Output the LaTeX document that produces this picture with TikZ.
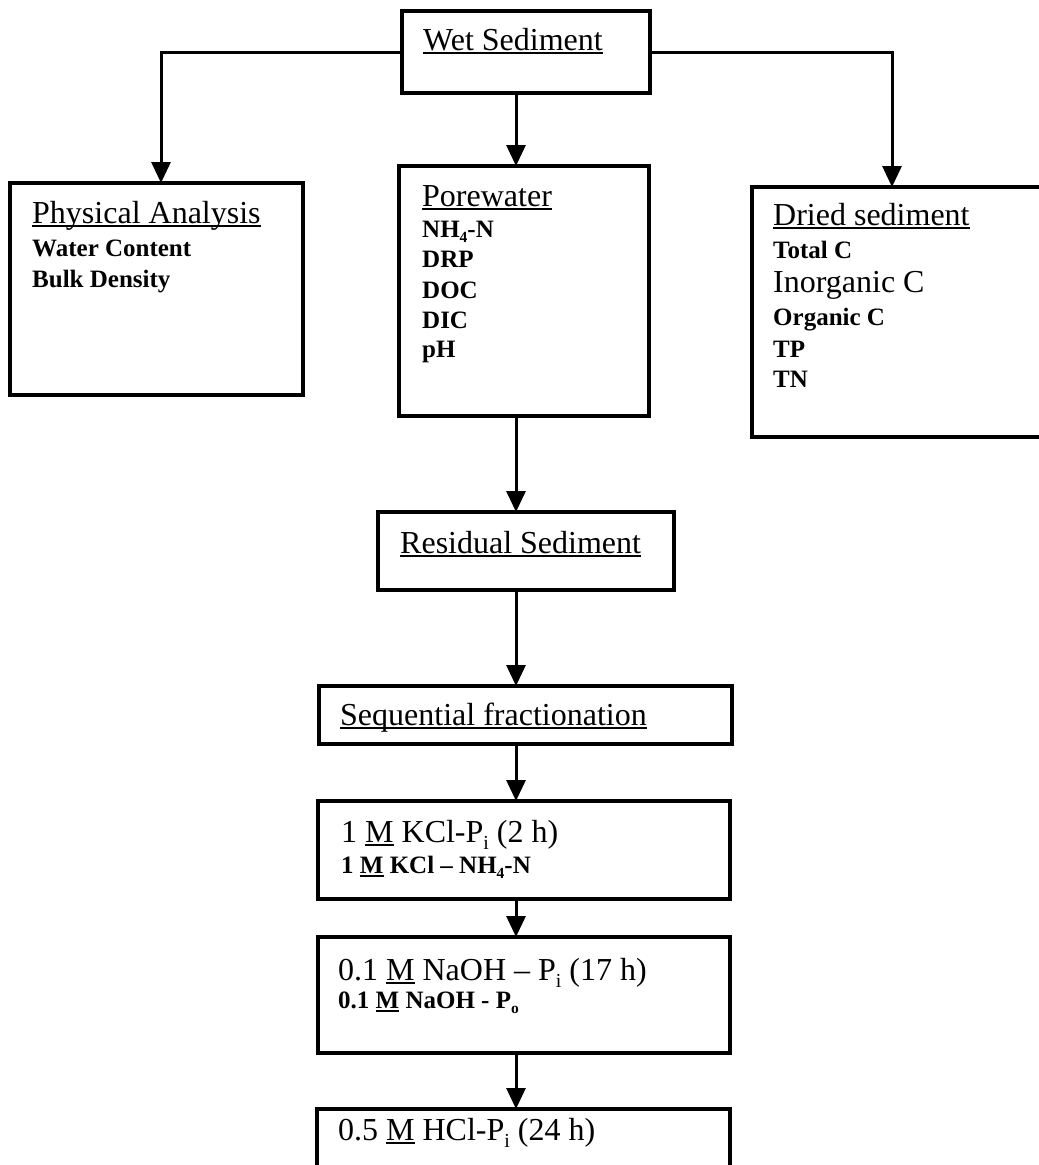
\documentclass[tikz,border=0pt]{standalone}
\usepackage{fontspec}
\setmainfont{Liberation Serif}
\usepackage{graphicx}
\usetikzlibrary{arrows.meta}
\newcommand\myul[1]{\setbox0\hbox{#1}\rlap{\rule[-0.14em]{\wd0}{0.07em}}\box0\relax}
\newcommand\subx[1]{\raisebox{-0.22em}{\scalebox{0.62}{#1}}}
\tikzset{
  box/.style={draw, line width=3.2pt, rectangle, inner sep=0pt, outer sep=0pt},
  arr/.style={draw, line width=3pt, -{Triangle[length=21pt,width=19pt]}},
  head/.style={anchor=base west, inner sep=0pt, font=\fontsize{32}{36}\selectfont},
  item/.style={anchor=base west, inner sep=0pt, font=\fontsize{25}{28}\selectfont\bfseries},
}
\begin{document}
\begin{tikzpicture}[x=1pt,y=-1pt]
\useasboundingbox (0,0) rectangle (1039,1165);
\fill[white] (0,0) rectangle (1039,1165);
\clip (0,0) rectangle (1039,1165);
% boxes
\node[box, minimum width=248pt, minimum height=82pt] (ws) at (526,52) {};
\node[box, minimum width=293pt, minimum height=212pt] (pa) at (156.5,289) {};
\node[box, minimum width=250pt, minimum height=250pt] (pw) at (524,291) {};
\node[box, minimum width=296pt, minimum height=250pt] (ds) at (900,312) {};
\node[box, minimum width=296pt, minimum height=78pt] (rs) at (526,551) {};
\node[box, minimum width=413pt, minimum height=58pt] (sf) at (525.5,715) {};
\node[box, minimum width=412pt, minimum height=98pt] (kc) at (524,850) {};
\node[box, minimum width=412pt, minimum height=116pt] (na) at (524,995) {};
\node[box, minimum width=413pt, minimum height=71pt] (hc) at (523.5,1144.5) {};
% connector columns
\coordinate (lx) at (161,0);
\coordinate (cx) at (516,0);
\coordinate (rx) at (892,0);
\draw[arr] (ws.west) -| (lx |- pa.north);
\draw[arr] (ws.east) -| (rx |- ds.north);
\draw[arr] (ws.south -| cx) -- (pw.north -| cx);
\draw[arr] (pw.south -| cx) -- (rs.north -| cx);
\draw[arr] (rs.south -| cx) -- (sf.north -| cx);
\draw[arr] (sf.south -| cx) -- (kc.north -| cx);
\draw[arr] (kc.south -| cx) -- (na.north -| cx);
\draw[arr] (na.south -| cx) -- (hc.north -| cx);
% texts
\node[head] (t-ws) at (423,50) {\myul{Wet Sediment}};
\node[head] (t-pa) at (32,223) {\myul{Physical Analysis}};
\node[item] (t-pa1) at (32,256) {Water Content};
\node[item] (t-pa2) at (32,287) {Bulk Density};
\node[head] (t-pw) at (422,206) {\myul{Porewater}};
\node[item] (t-pw1) at (422,237) {NH\subx{4}-N};
\node[item] (t-pw2) at (422,267) {DRP};
\node[item] (t-pw3) at (422,298) {DOC};
\node[item] (t-pw4) at (422,328) {DIC};
\node[item] (t-pw5) at (422,357) {pH};
\node[head] (t-ds) at (773,225) {\myul{Dried sediment}};
\node[item] (t-ds1) at (773,258) {Total C};
\node[head] (t-ds2) at (773,292) {Inorganic C};
\node[item] (t-ds3) at (773,325) {Organic C};
\node[item] (t-ds4) at (773,357) {TP};
\node[item] (t-ds5) at (773,387) {TN};
\node[head] (t-rs) at (400,553) {\myul{Residual Sediment}};
\node[head] (t-sf) at (340,725) {\myul{Sequential fractionation}};
\node[head] (t-kc1) at (341,842) {1 \myul{M} KCl-P\subx{i} (2 h)};
\node[item] (t-kc2) at (341,873) {1 \myul{M} KCl -- NH\subx{4}-N};
\node[head] (t-na1) at (338,980) {0.1 \myul{M} NaOH -- P\subx{i} (17 h)};
\node[item] (t-na2) at (338,1008) {0.1 \myul{M} NaOH - P\subx{o}};
\node[head] (t-hc1) at (338,1140) {0.5 \myul{M} HCl-P\subx{i} (24 h)};
\end{tikzpicture}
\end{document}
